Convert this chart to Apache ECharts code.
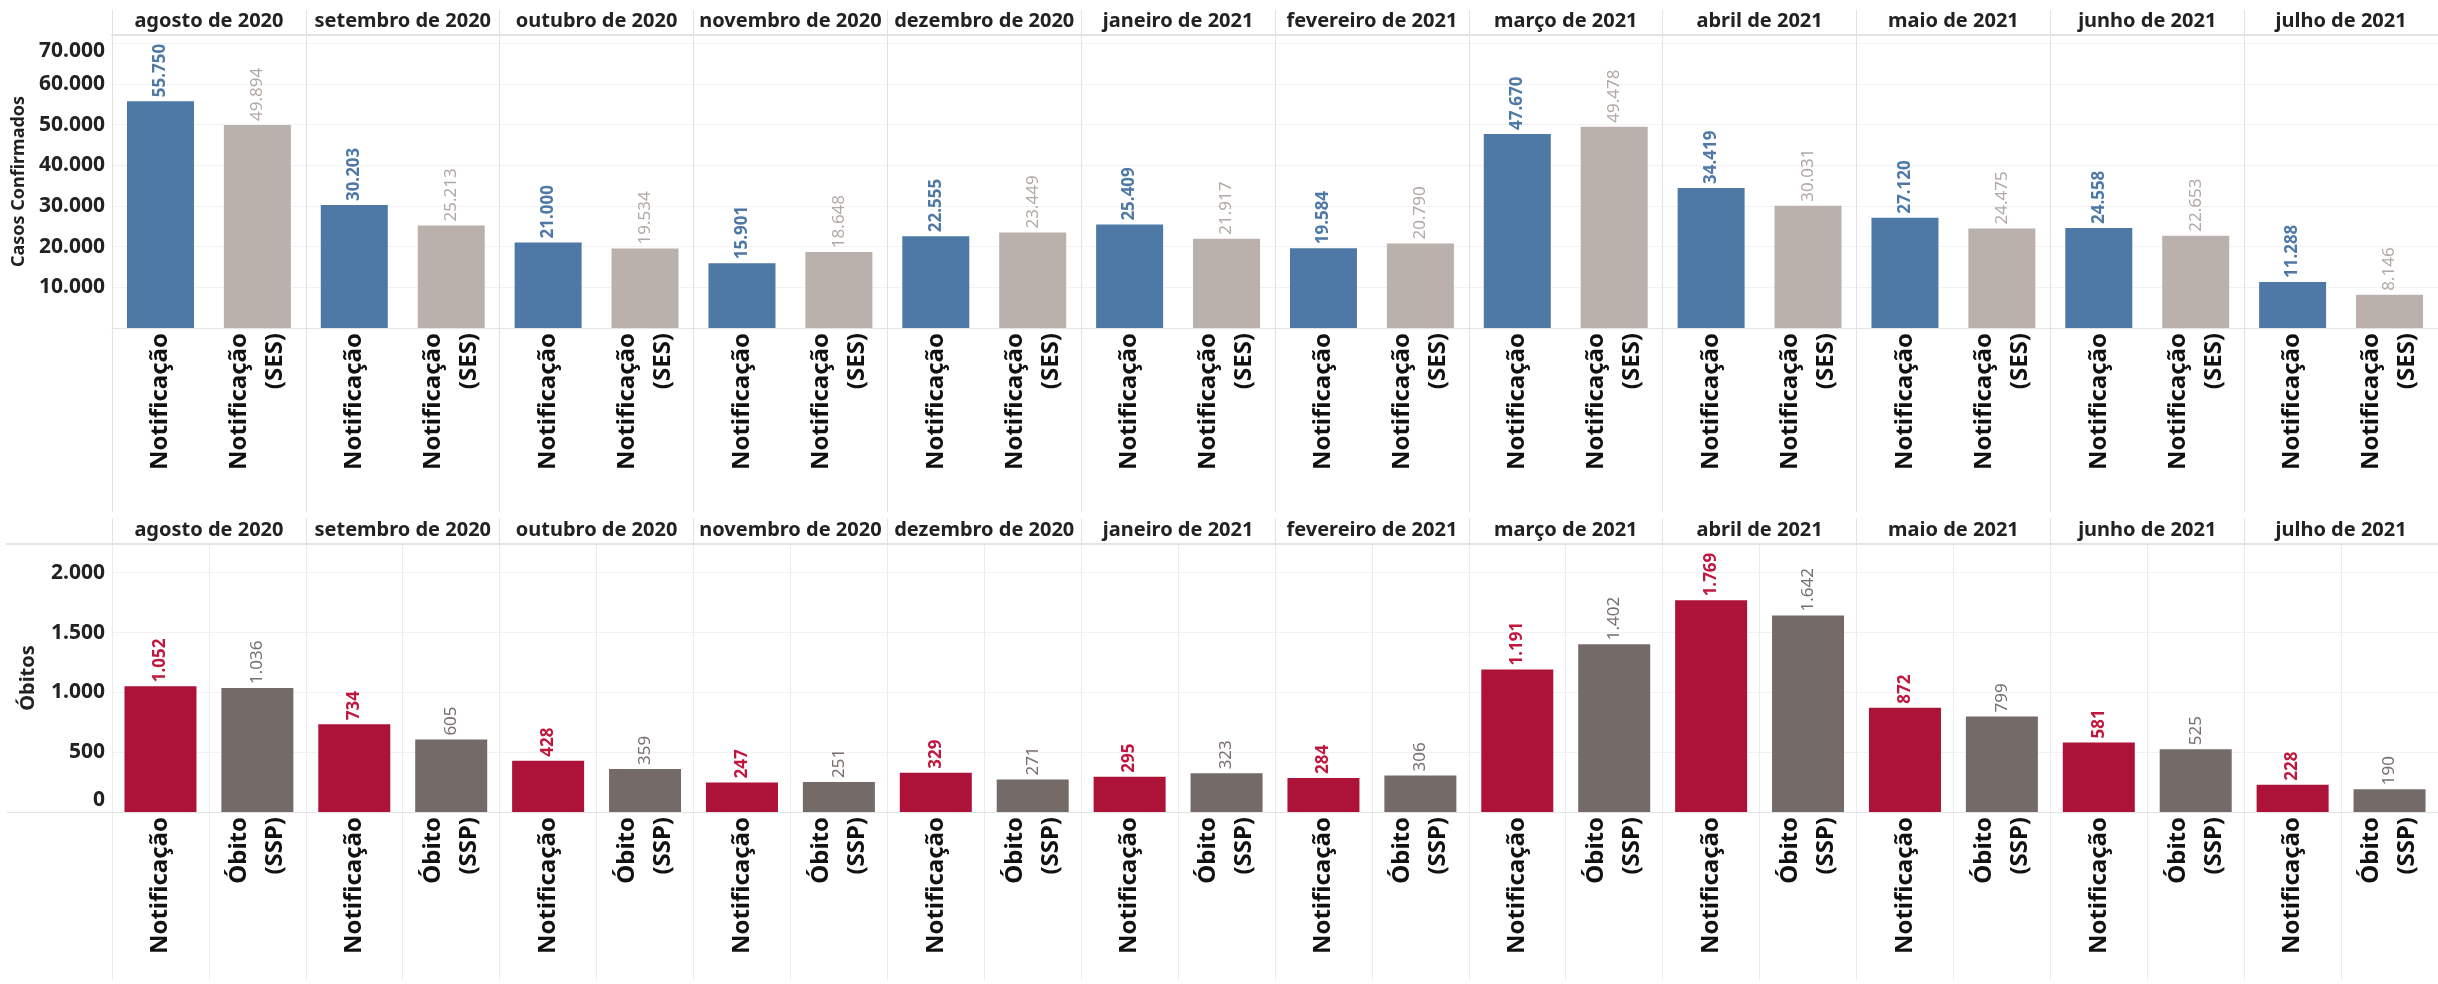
<!DOCTYPE html>
<html>
<head>
<meta charset="utf-8">
<script src="https://cdn.jsdelivr.net/npm/echarts@6/dist/echarts.min.js"></script>
<style>
  html, body { margin: 0; padding: 0; background: #fff; }
  #main { width: 2438px; height: 984px; }
</style>
</head>
<body>
<div id="main"></div>
<script>
const meses = ['agosto de 2020', 'setembro de 2020', 'outubro de 2020', 'novembro de 2020',
  'dezembro de 2020', 'janeiro de 2021', 'fevereiro de 2021', 'março de 2021',
  'abril de 2021', 'maio de 2021', 'junho de 2021', 'julho de 2021'];
const tiposCasos = ['Notificação', 'Notificação\n(SES)'];
const tiposObitos = ['Notificação', 'Óbito\n(SSP)'];

const casosNotificacao = [55750, 30203, 21000, 15901, 22555, 25409, 19584, 47670, 34419, 27120, 24558, 11288];
const casosSES = [49894, 25213, 19534, 18648, 23449, 21917, 20790, 49478, 30031, 24475, 22653, 8146];
const obitosNotificacao = [1052, 734, 428, 247, 329, 295, 284, 1191, 1769, 872, 581, 228];
const obitosSSP = [1036, 605, 359, 251, 271, 323, 306, 1402, 1642, 799, 525, 190];

const casosEixo = { max: 72000, interval: 10000 };
const obitosEixo = { max: 2240, interval: 500 };

const FONT = "'Noto Sans', sans-serif";
const fmt = v => String(v).replace(/\B(?=(\d{3})+(?!\d))/g, '.');

const catCasos = meses.flatMap(() => tiposCasos);
const catObitos = meses.flatMap(() => tiposObitos);

const L = 112, W = 2340;
const lineColor = '#e3e3e3';
const tickFont = { fontFamily: FONT, fontSize: 21, fontWeight: 'bold', color: '#222' };

function barLabel(color, weight) {
  return {
    show: true, position: 'top', rotate: 90, align: 'left', verticalAlign: 'middle',
    distance: 4, color: color, fontFamily: FONT, fontSize: 17, fontWeight: weight,
    formatter: p => fmt(p.value)
  };
}

function catAxis(grid, data) {
  return {
    type: 'category', gridIndex: grid, data: data, position: 'bottom',
    axisLine: { show: true, onZero: false, lineStyle: { color: lineColor } },
    axisTick: { show: false },
    axisLabel: { interval: 0, rotate: 90, margin: 5, color: '#111', fontFamily: FONT,
      fontSize: 24, fontWeight: 'bold', lineHeight: 36 },
    splitLine: { show: false }
  };
}

function headerAxis(grid, tick) {
  return {
    type: 'category', gridIndex: grid, data: meses, position: 'top',
    axisLine: { show: true, onZero: false, lineStyle: { color: lineColor, width: 2 } },
    axisTick: { show: true, interval: 0, length: tick, lineStyle: { color: lineColor } },
    axisLabel: { interval: 0, margin: 4, color: '#222', fontFamily: FONT, fontSize: 20, fontWeight: 'bold' },
    splitLine: { show: true, interval: 0, lineStyle: { color: lineColor } }
  };
}

const option = {
  backgroundColor: '#fff',
  animation: false,
  grid: [
    { left: L, width: W, top: 35, height: 293 },   // casos
    { left: L, width: W, top: 35, height: 477 },   // moldura casos
    { left: L, width: W, top: 544, height: 268 },  // óbitos
    { left: L, width: W, top: 544, height: 436 },  // moldura óbitos
    { left: L, width: W, top: 544, height: 436 },  // divisórias internas óbitos
    { left: 7, width: 2445, top: 544, height: 268 } // linhas horizontais óbitos
  ],
  xAxis: [
    catAxis(0, catCasos),
    headerAxis(1, 25),
    catAxis(2, catObitos),
    headerAxis(3, 26),
    { type: 'category', gridIndex: 4, data: catObitos, axisLine: { show: false, onZero: false }, axisTick: { show: false },
      axisLabel: { show: false }, splitLine: { show: true, interval: 0, lineStyle: { color: '#ececec' } } },
    { type: 'category', gridIndex: 5, data: [''], position: 'bottom',
      axisLine: { onZero: false, lineStyle: { color: lineColor } },
      axisTick: { show: false }, axisLabel: { show: false } },
    { type: 'category', gridIndex: 5, data: [''], position: 'top',
      axisLine: { onZero: false, lineStyle: { color: lineColor, width: 2 } },
      axisTick: { show: false }, axisLabel: { show: false } }
  ],
  yAxis: [
    { type: 'value', gridIndex: 0, min: 0, max: casosEixo.max, interval: casosEixo.interval,
      name: 'Casos Confirmados', nameLocation: 'middle', nameGap: 78, nameRotate: 90,
      nameTextStyle: { fontFamily: FONT, fontSize: 18, fontWeight: 'bold', color: '#222' },
      axisLine: { show: false }, axisTick: { show: false },
      axisLabel: Object.assign({ margin: 7,
        formatter: v => {
          if (v === 0 || v % casosEixo.interval) return '';
          // o rótulo do topo fica um pouco abaixo da linha, como no original
          return v === 70000 ? '{topo|' + fmt(v) + '}' : fmt(v);
        },
        rich: { topo: Object.assign({ padding: [16, 0, 0, 0] }, tickFont) } }, tickFont),
      splitLine: { lineStyle: { color: '#f2f2f2' } } },
    { type: 'value', gridIndex: 1, show: false, splitLine: { show: false } },
    { type: 'value', gridIndex: 2, min: 0, max: obitosEixo.max, interval: obitosEixo.interval,
      name: 'Óbitos', nameLocation: 'middle', nameGap: 74, nameRotate: 90,
      nameTextStyle: { fontFamily: FONT, fontSize: 20, fontWeight: 'bold', color: '#222' },
      axisLine: { show: false }, axisTick: { show: false },
      axisLabel: Object.assign({ margin: 7,
        formatter: v => {
          if (v % obitosEixo.interval) return '';
          return v === 0 ? '{zero|0}' : fmt(v);
        },
        rich: { zero: Object.assign({ padding: [0, 0, 24, 0] }, tickFont) } }, tickFont),
      splitLine: { lineStyle: { color: '#f2f2f2' } } },
    { type: 'value', gridIndex: 3, show: false, splitLine: { show: false } },
    { type: 'value', gridIndex: 4, show: false, splitLine: { show: false } },
    { type: 'value', gridIndex: 5, show: false, splitLine: { show: false } }
  ],
  series: [
    { name: 'Notificação', type: 'bar', xAxisIndex: 0, yAxisIndex: 0, barWidth: 67, barGap: '-100%',
      itemStyle: { color: '#4e79a7' }, label: barLabel('#4e79a7', 'bold'),
      data: casosNotificacao.flatMap(v => [v, null]) },
    { name: 'Notificação (SES)', type: 'bar', xAxisIndex: 0, yAxisIndex: 0, barWidth: 67, barGap: '-100%',
      itemStyle: { color: '#bab0ac' }, label: barLabel('#b3a9a5', 'normal'),
      data: casosSES.flatMap(v => [null, v]) },
    { name: 'Notificação', type: 'bar', xAxisIndex: 2, yAxisIndex: 2, barWidth: 72, barGap: '-100%',
      itemStyle: { color: '#ad1238' }, label: barLabel('#c0173f', 'bold'),
      data: obitosNotificacao.flatMap(v => [v, null]) },
    { name: 'Óbito (SSP)', type: 'bar', xAxisIndex: 2, yAxisIndex: 2, barWidth: 72, barGap: '-100%',
      itemStyle: { color: '#746a67' }, label: barLabel('#79706e', 'normal'),
      data: obitosSSP.flatMap(v => [null, v]) }
  ]
};

const chart = echarts.init(document.getElementById('main'));
chart.setOption(option);
</script>
</body>
</html>
